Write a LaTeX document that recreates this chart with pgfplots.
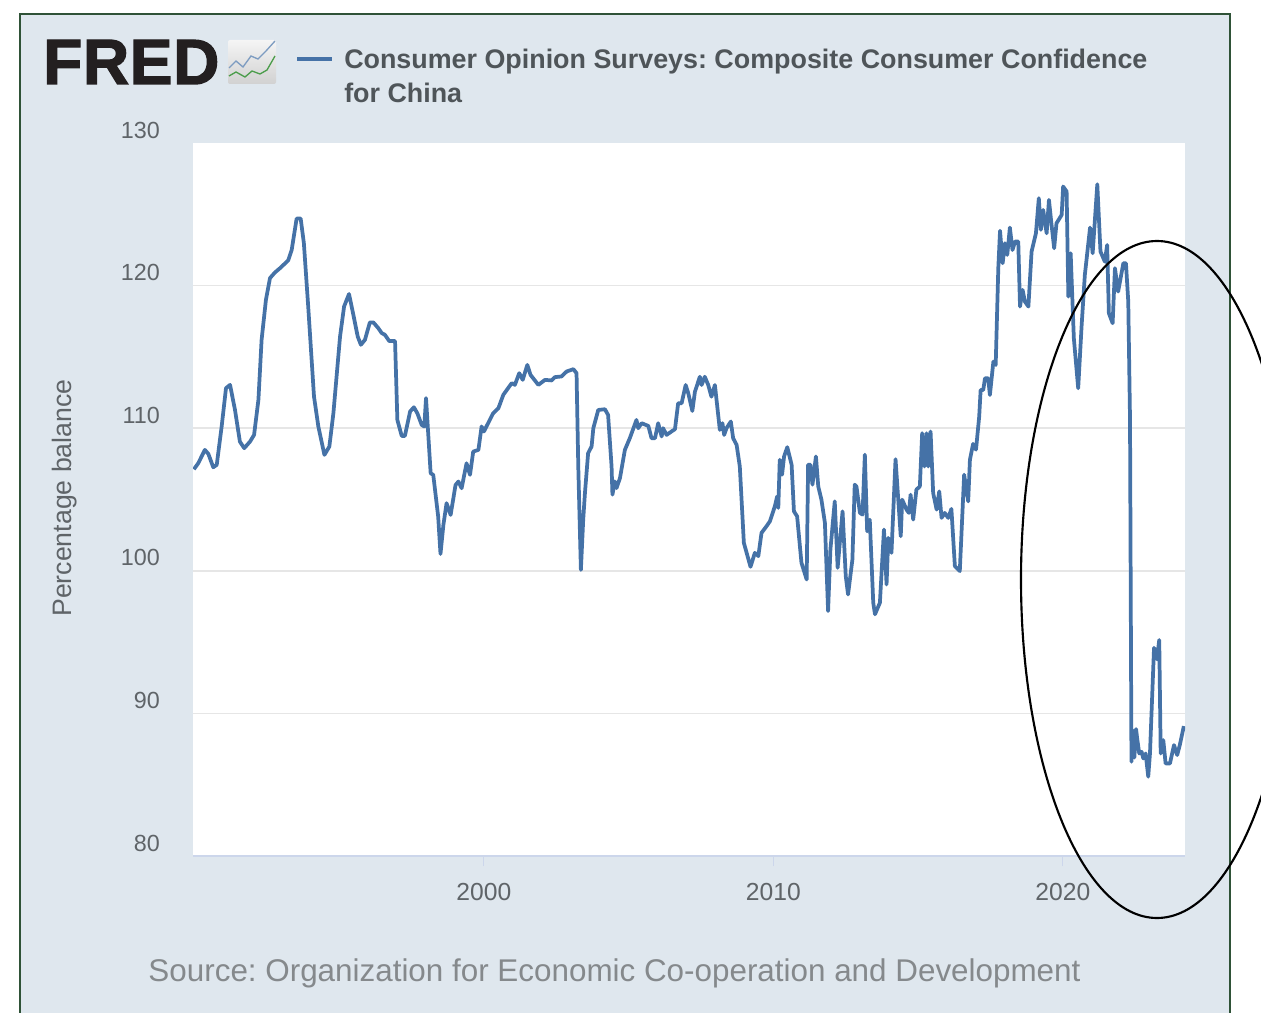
\documentclass[border=0pt]{standalone}
\usepackage{fontspec}
\setmainfont{Liberation Sans}
\usepackage{pgfplots}
\pgfplotsset{compat=1.18}
\definecolor{panelbg}{HTML}{DFE7EE}
\definecolor{panelframe}{HTML}{2F5237}
\definecolor{fredblue}{HTML}{4572A7}
\definecolor{gridc}{HTML}{E6E6E6}
\definecolor{axisc}{HTML}{CCD6EB}
\definecolor{labelc}{HTML}{5F6468}
\definecolor{legc}{HTML}{4F5559}
\definecolor{srcc}{HTML}{85898C}
\definecolor{fredk}{HTML}{231F20}
\begin{document}
\frenchspacing
\begin{tikzpicture}[x=0.75pt,y=-0.75pt]
\path[use as bounding box] (0,0) rectangle (1261,1013);
\clip (0,0) rectangle (1261,1013);
\fill[panelbg] (20,14) rectangle (1230,1020);
\draw[panelframe,line width=1.5pt] (20,1020) -- (20,14) -- (1230,14) -- (1230,1020);
% logo
\node[anchor=base west,inner sep=0pt,text=fredk] at (43,84) {\fontsize{48}{48}\selectfont\bfseries\addfontfeature{FakeBold=2,LetterSpace=1}FRED};
\shade[top color=white!92!gray,bottom color=black!18,rounded corners=1.5pt] (228,40) rectangle (276,84);
\draw[fredblue!70!white,line width=1pt] (229,68) -- (236,61) -- (243,67) -- (251,56) -- (258,59) -- (266,51) -- (275,41);
\draw[green!45!black!70!white,line width=1pt] (229,76) -- (236,72) -- (245,77) -- (252,71) -- (260,74) -- (267,70) -- (275,56);
\draw[fredblue,line width=2.5pt] (297,59) -- (332,59);
\node[anchor=base west,inner sep=0pt,text=legc] at (344,69) {\fontsize{20.15}{20}\selectfont\bfseries Consumer Opinion Surveys: Composite Consumer Confidence};
\node[anchor=base west,inner sep=0pt,text=legc] at (344,103) {\fontsize{20.15}{20}\selectfont\bfseries for China};
\coordinate (axorigin) at (193,856);
\begin{axis}[
  at={(axorigin)},anchor=south west,
  scale only axis,width=744pt,height=534.75pt,
  xmin=1989.95,xmax=2024.22,ymin=80,ymax=130,
  axis background/.style={fill=white},
  axis x line*=bottom,axis y line*=left,
  x axis line style={draw=axisc,line width=1pt,-},
  y axis line style={draw=none},
  xtick={2000,2010,2020},
  ytick={90,100,110,120},
  extra y ticks={80,130},
  extra y tick style={grid=none},
  ymajorgrids,
  grid style={draw=gridc,line width=1.2pt},
  tick align=outside,
  major tick length=7.5pt,
  xtick style={draw=axisc,line width=0.8pt},
  ytick style={draw=none},
  /pgf/number format/assume math mode=true,
  /pgf/number format/1000 sep={},
  xticklabel style={font=\fontsize{18.5}{18.5}\selectfont,text=labelc,inner sep=0pt,anchor=north,yshift=-13pt},
  yticklabel style={font=\fontsize{17.5}{17.5}\selectfont,text=labelc,inner sep=0pt,anchor=east,xshift=-17.25pt,yshift=9.75pt},
  ylabel={Percentage balance},
  every axis y label/.style={at={(axis description cs:-0.129,0.502)},rotate=90,anchor=center,font=\fontsize{20}{20}\selectfont,text=labelc},
  clip=true,
]
\addplot[fredblue,line width=2.8pt,line join=round] coordinates {
(1989.98,107.12)(1990.13,107.54)(1990.36,108.48)(1990.48,108.20)(1990.65,107.26)(1990.77,107.43)(1990.94,110.12)(1991.09,112.81)(1991.23,113.04)(1991.40,111.29)(1991.57,109.06)(1991.72,108.60)(1991.92,109.06)(1992.06,109.53)(1992.21,111.99)(1992.32,116.20)(1992.47,119.01)(1992.61,120.53)(1992.78,120.92)(1992.96,121.23)(1993.24,121.77)(1993.36,122.51)(1993.53,124.70)(1993.67,124.70)(1993.78,122.98)(1993.93,118.54)(1994.13,112.22)(1994.28,110.12)(1994.49,108.13)(1994.66,108.71)(1994.80,111.05)(1995.03,116.43)(1995.17,118.54)(1995.34,119.41)(1995.49,117.95)(1995.64,116.43)(1995.75,115.85)(1995.89,116.20)(1996.06,117.42)(1996.18,117.42)(1996.35,117.02)(1996.47,116.67)(1996.58,116.55)(1996.73,116.11)(1996.93,116.11)(1997.01,110.58)(1997.16,109.46)(1997.27,109.46)(1997.45,111.17)(1997.58,111.47)(1997.70,111.05)(1997.85,110.23)(1997.94,110.12)(1998.00,112.11)(1998.16,106.84)(1998.25,106.73)(1998.42,103.80)(1998.50,101.18)(1998.60,103.22)(1998.71,104.74)(1998.85,103.92)(1999.02,106.02)(1999.12,106.26)(1999.23,105.79)(1999.40,107.54)(1999.52,106.73)(1999.63,108.36)(1999.81,108.48)(1999.92,110.12)(2000.00,109.77)(2000.32,111.05)(2000.50,111.40)(2000.67,112.34)(2000.96,113.16)(2001.07,113.04)(2001.22,113.86)(2001.34,113.39)(2001.50,114.44)(2001.61,113.74)(2001.88,113.04)(2002.11,113.39)(2002.34,113.35)(2002.45,113.58)(2002.68,113.63)(2002.86,113.98)(2003.09,114.14)(2003.20,113.86)(2003.26,107.31)(2003.35,100.06)(2003.43,103.57)(2003.49,105.45)(2003.60,108.25)(2003.72,108.72)(2003.78,110)(2003.95,111.28)(2004.18,111.33)(2004.29,110.93)(2004.41,107.32)(2004.44,105.34)(2004.52,106.27)(2004.58,105.80)(2004.70,106.50)(2004.87,108.48)(2005.04,109.30)(2005.27,110.58)(2005.33,110)(2005.45,110.35)(2005.68,110.16)(2005.79,109.30)(2005.91,109.30)(2006.02,110.35)(2006.14,109.42)(2006.19,110)(2006.31,109.53)(2006.48,109.77)(2006.60,109.93)(2006.71,111.75)(2006.83,111.75)(2006.97,113.03)(2007.06,112.45)(2007.20,111.21)(2007.29,112.56)(2007.46,113.61)(2007.52,113.03)(2007.63,113.61)(2007.75,113.03)(2007.86,112.21)(2007.98,113.03)(2008.15,109.88)(2008.24,110.35)(2008.30,109.53)(2008.38,110)(2008.53,110.47)(2008.61,109.30)(2008.73,108.83)(2008.84,107.32)(2008.98,101.96)(2009.21,100.28)(2009.36,101.26)(2009.48,101.03)(2009.59,102.66)(2009.76,103.12)(2009.88,103.47)(2010.05,104.52)(2010.13,105.22)(2010.17,104.41)(2010.22,107.79)(2010.30,106.74)(2010.37,108.02)(2010.48,108.67)(2010.63,107.44)(2010.71,104.17)(2010.82,103.82)(2010.97,100.56)(2011.15,99.39)(2011.20,107.44)(2011.28,107.44)(2011.35,106.04)(2011.47,108.02)(2011.55,105.92)(2011.66,104.99)(2011.78,103.36)(2011.89,97.18)(2011.97,101.49)(2012.12,104.87)(2012.22,100.21)(2012.39,104.17)(2012.50,99.63)(2012.58,98.34)(2012.73,100.79)(2012.81,106.04)(2012.87,105.92)(2012.99,104.06)(2013.08,103.94)(2013.16,108.14)(2013.24,102.77)(2013.33,103.59)(2013.45,97.76)(2013.51,96.95)(2013.68,97.76)(2013.82,102.89)(2013.91,99.04)(2013.97,102.31)(2014.08,101.26)(2014.22,107.83)(2014.40,102.42)(2014.45,104.99)(2014.60,104.29)(2014.68,104.06)(2014.74,105.34)(2014.83,103.59)(2014.94,105.69)(2015.06,105.92)(2015.14,109.65)(2015.22,107.32)(2015.29,109.65)(2015.35,107.32)(2015.43,109.77)(2015.52,105.45)(2015.64,104.29)(2015.73,105.57)(2015.81,103.71)(2015.92,104.06)(2016.04,103.71)(2016.15,104.34)(2016.27,100.33)(2016.44,99.98)(2016.59,106.74)(2016.73,104.87)(2016.79,107.79)(2016.90,108.9)(2017.00,108.5)(2017.11,110.81)(2017.16,112.68)(2017.25,112.68)(2017.31,113.50)(2017.42,113.50)(2017.48,112.33)(2017.60,114.67)(2017.68,114.43)(2017.77,121.22)(2017.83,123.85)(2017.92,121.57)(2018.00,122.97)(2018.08,122.15)(2018.17,124.07)(2018.26,122.50)(2018.35,123.09)(2018.46,123.09)(2018.52,118.53)(2018.61,119.70)(2018.69,118.88)(2018.81,118.53)(2018.92,122.39)(2019.07,123.67)(2019.17,126.13)(2019.24,123.91)(2019.32,125.31)(2019.44,123.67)(2019.52,126.01)(2019.61,124.26)(2019.70,122.62)(2019.78,124.37)(2019.96,124.96)(2020.01,126.95)(2020.13,126.60)(2020.19,119.23)(2020.27,122.27)(2020.38,116.30)(2020.53,112.80)(2020.65,117.24)(2020.76,120.75)(2020.94,124.07)(2021.03,122.27)(2021.19,127.11)(2021.30,122.39)(2021.45,121.68)(2021.53,122.85)(2021.59,118.06)(2021.72,117.36)(2021.80,121.22)(2021.91,119.58)(2022.09,121.57)(2022.18,121.57)(2022.26,118.88)(2022.32,110.69)(2022.37,86.61)(2022.42,88.8)(2022.47,86.9)(2022.53,88.9)(2022.57,88.2)(2022.64,87.19)(2022.72,87.31)(2022.78,86.84)(2022.86,87.19)(2022.95,85.56)(2023.01,87.19)(2023.15,94.6)(2023.25,93.8)(2023.33,95.15)(2023.38,87.19)(2023.47,88.13)(2023.55,86.49)(2023.70,86.49)(2023.84,87.78)(2023.95,87.08)(2024.04,87.78)(2024.18,89.11)
};
\end{axis}
\node[anchor=center,inner sep=0pt,text=srcc] at (614.5,973) {\fontsize{23.55}{23}\selectfont Source: Organization for Economic Co-operation and Development};
\draw[black,line width=1.6pt] (1157,579.5) ellipse [x radius=136,y radius=338.5];
\end{tikzpicture}
\end{document}
